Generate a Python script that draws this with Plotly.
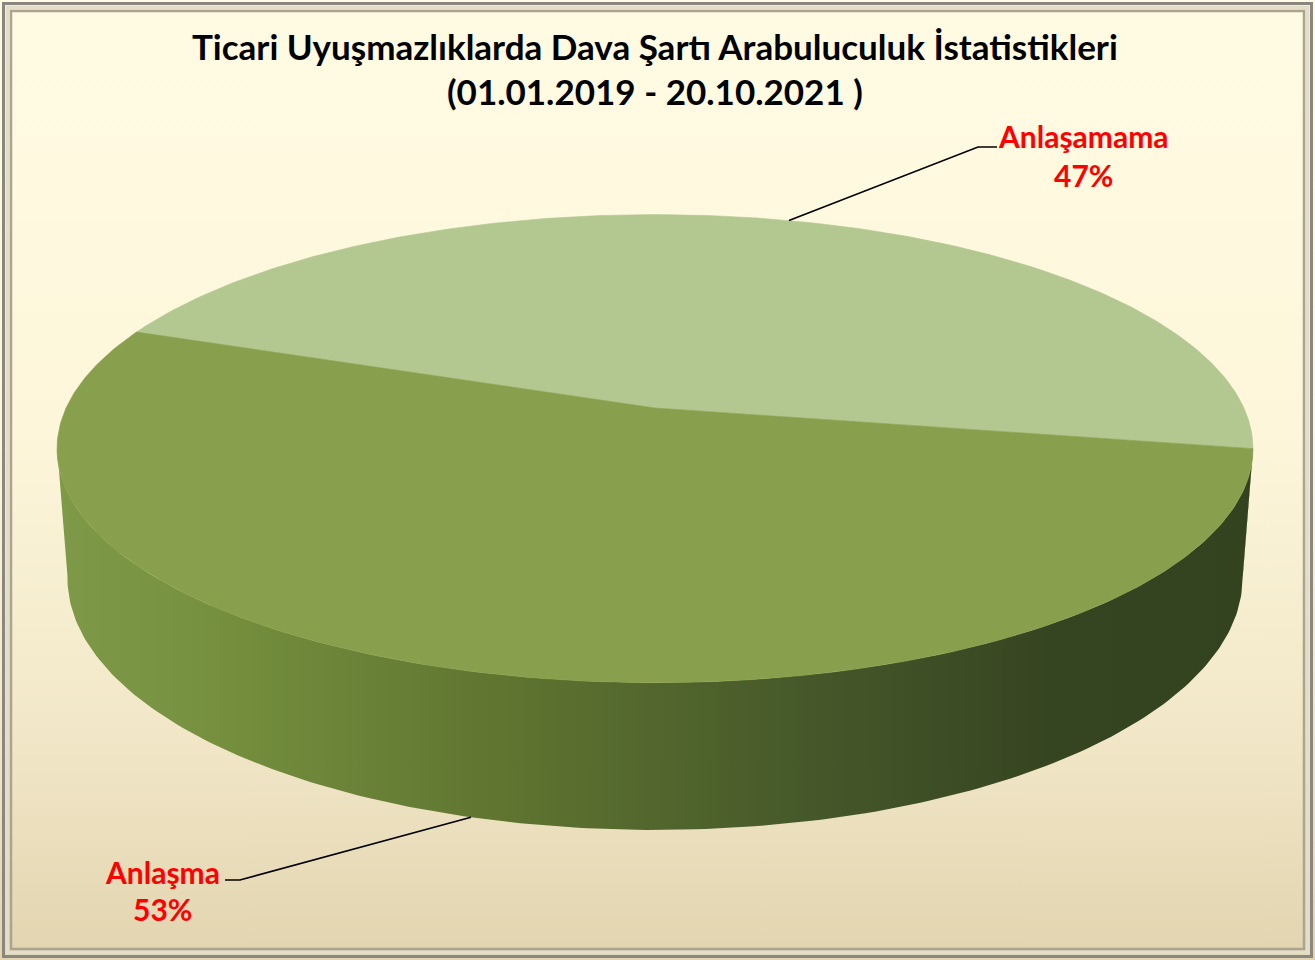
import numpy as np
import plotly.graph_objects as go

# ---------------- data ----------------
TITLE_LINE1 = "Ticari Uyuşmazlıklarda Dava Şartı Arabuluculuk İstatistikleri"
TITLE_LINE2 = "(01.01.2019 - 20.10.2021 )"
LABELS = ["Anlaşamama", "Anlaşma"]
PERCENTS = [47, 53]
TOP_COLORS = ["#B3C891", "#88A04E"]

# ---------------- layout / projection parameters ----------------
W, H = 1315, 960
CX, CY = 655, 408          # projected pie centre
F = 3130                   # focal scale
PHI = np.radians(22.67)    # camera elevation
DIST = 5.315               # camera distance (in radii)
THICK = 0.2373             # pie thickness (in radii)
START_DEG = -10.0          # first slice start angle (counter-clockwise)
SIDE_SCALE = [[0.0, "#7E9948"], [0.12, "#76913F"], [0.37, "#5F7530"],
              [0.62, "#46592A"], [0.83, "#364521"], [1.0, "#33421F"]]
BG_SCALE = [[0.0, "#FFFBE3"], [0.45, "#FDF6DA"], [0.75, "#F2E8C9"], [1.0, "#E2D4AF"]]
FONT = "Lato"

S, C = np.sin(PHI), np.cos(PHI)


def proj(theta, z=0.0):
    X, Y = np.cos(theta), np.sin(theta)
    w = Y * C - z * S + DIST
    return CX + F * X / w, CY - F * (Y * S + z * C) / w


fig = go.Figure()

# background panel
fig.add_trace(go.Scatter(
    x=[0, W, W, 0, 0], y=[0, 0, H, H, 0], mode="lines", line=dict(width=0),
    fill="toself", fillgradient=dict(type="vertical", colorscale=BG_SCALE, start=0, stop=H),
    hoverinfo="skip", showlegend=False))

# slice angles
total = float(sum(PERCENTS))
bounds = [np.radians(START_DEG)]
for p in PERCENTS:
    bounds.append(bounds[-1] + 2 * np.pi * p / total)

# visible front range of the side wall
ext = np.arcsin(C / DIST)
front_lo, front_hi = np.pi + ext, 2 * np.pi - ext

side_x_all = []
sides = []
for i in range(len(PERCENTS)):
    a0, a1 = bounds[i], bounds[i + 1]
    best = None
    for k in (-1, 0, 1):
        lo, hi = max(a0 + 2 * np.pi * k, front_lo - 0.01), min(a1 + 2 * np.pi * k, front_hi + 0.01)
        if hi > lo:
            best = (lo, hi)
    if best is None:
        continue
    th = np.linspace(best[0], best[1], 200)
    xt, yt = proj(th, 0.0)
    xb, yb = proj(th[::-1], -THICK)
    xs = np.concatenate([xt, xb, xt[:1]])
    ys = np.concatenate([yt, yb, yt[:1]])
    sides.append((xs, ys))
    side_x_all.extend(xs)

if side_x_all:
    thx = np.linspace(0, 2 * np.pi, 720)
    ex, _ = proj(thx)
    gx0, gx1 = float(ex.min()), float(ex.max())
    for xs, ys in sides:
        fig.add_trace(go.Scatter(
            x=xs, y=ys, mode="lines", line=dict(width=0), fill="toself",
            fillgradient=dict(type="horizontal", colorscale=SIDE_SCALE, start=gx0, stop=gx1),
            hoverinfo="skip", showlegend=False))

# top faces
mids = []
for i in range(len(PERCENTS)):
    th = np.linspace(bounds[i], bounds[i + 1], 300)
    xt, yt = proj(th, 0.0)
    xs = np.concatenate([[CX], xt, [CX]])
    ys = np.concatenate([[CY], yt, [CY]])
    fig.add_trace(go.Scatter(
        x=xs, y=ys, mode="lines", line=dict(width=0.6, color=TOP_COLORS[i]),
        fill="toself", fillcolor=TOP_COLORS[i],
        hoverinfo="skip", showlegend=False))
    mids.append((bounds[i] + bounds[i + 1]) / 2)

# labels with leader lines
label_pos = [  # (text centre x, name y, pct y, elbow x, end x, leader y)
    (1083, 136, 175, 978, 997, 147),
    (162, 872, 909, 240, 225, 880),
]
for i, (lx, ny, py, ex_, end_x, ly) in enumerate(label_pos):
    m = mids[i]
    z = 0.0 if np.sin(m) > 0 else -THICK
    ax_, ay_ = proj(m, z)
    fig.add_trace(go.Scatter(
        x=[ax_, ex_, end_x], y=[ay_, ly, ly], mode="lines",
        line=dict(color="black", width=1.6), hoverinfo="skip", showlegend=False))
    fig.add_annotation(x=lx, y=ny, text=f"<b>{LABELS[i]}</b>", showarrow=False,
                       font=dict(family=FONT, size=30, color="#FF0000"),
                       xanchor="center", yanchor="middle")
    fig.add_annotation(x=lx, y=py, text=f"<b>{PERCENTS[i]}%</b>", showarrow=False,
                       font=dict(family=FONT, size=30, color="#FF0000"),
                       xanchor="center", yanchor="middle")

# title
fig.add_annotation(x=655, y=46, text=f"<b>{TITLE_LINE1}</b>", showarrow=False,
                   font=dict(family=FONT, size=35, color="black"),
                   xanchor="center", yanchor="middle")
fig.add_annotation(x=655, y=91, text=f"<b>{TITLE_LINE2}</b>", showarrow=False,
                   font=dict(family=FONT, size=35, color="black"),
                   xanchor="center", yanchor="middle")

# bevelled frame
frame = [(3.5, 3, "#8A8780"), (7.5, 4, "#E4DDC8"), (11, 2.5, "#ABA48F")]
for inset, lw, col in frame:
    fig.add_shape(type="rect", xref="x", yref="y", x0=inset, y0=inset,
                  x1=W - inset, y1=H - inset, line=dict(color=col, width=lw),
                  fillcolor="rgba(0,0,0,0)", layer="above")

fig.update_layout(
    width=W, height=H, margin=dict(l=0, r=0, t=0, b=0),
    paper_bgcolor="white", plot_bgcolor="white",
    xaxis=dict(range=[0, W], visible=False, fixedrange=True),
    yaxis=dict(range=[H, 0], visible=False, fixedrange=True),
    showlegend=False,
)

fig.write_html("out.html", config={"displayModeBar": False},
               post_script="document.body.style.margin='0px';document.body.style.overflow='hidden';")
